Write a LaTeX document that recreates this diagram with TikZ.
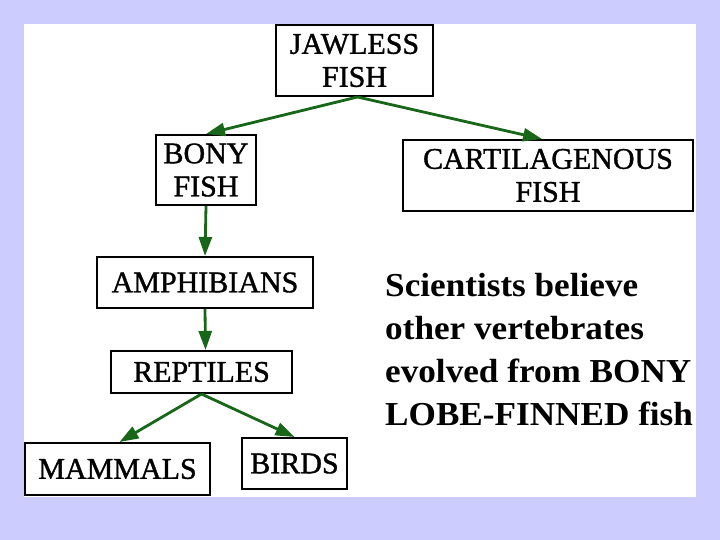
\documentclass[tikz,border=0pt]{standalone}
\usepackage{fontspec}
\setmainfont{Liberation Serif}
\newfontfamily\taxonfont[FakeBold=1.2]{Liberation Serif}
\newfontfamily\notefont[FakeStretch=1.05]{Liberation Serif}
\usetikzlibrary{arrows.meta}
\definecolor{treegreen}{RGB}{24,102,24}
\definecolor{slideblue}{RGB}{204,204,255}
\tikzset{
  >=Latex,
  taxon/.style={draw, line width=2pt, fill=white, align=center, inner sep=0pt,
    font=\taxonfont\fontsize{30}{33}\selectfont},
  note/.style={align=left, inner sep=0pt, anchor=west,
    font=\notefont\bfseries\fontsize{33.5}{43}\selectfont},
  arr/.style={-{Triangle[length=19pt,width=13pt]}, line width=2.8pt, draw=treegreen}
}

\begin{document}
\begin{tikzpicture}[x=1pt,y=-1pt]

% ------------------------------------------------------------------
% slide background
% ------------------------------------------------------------------
\fill[slideblue] (0,0) rectangle (720,540);
\fill[white] (24,24) rectangle (696,497);
\useasboundingbox (0,0) rectangle (720,540);

% ------------------------------------------------------------------
% fish
% ------------------------------------------------------------------
\node[taxon, minimum width=157pt, minimum height=71pt] (jawless) at (354.5,60.5)
  {JAWLESS\\FISH};
\node[taxon, minimum width=100pt, minimum height=70pt] (bony) at (206,170)
  {BONY\\FISH};
\node[taxon, minimum width=290pt, minimum height=71pt] (cartilage) at (548,175.5)
  {CARTILAGENOUS\\FISH};

% ------------------------------------------------------------------
% land vertebrates
% ------------------------------------------------------------------
\node[taxon, minimum width=216pt, minimum height=51pt] (amphibians) at (205,282.5)
  {AMPHIBIANS};
\node[taxon, minimum width=181pt, minimum height=42pt] (reptiles) at (201.5,372)
  {REPTILES};
\node[taxon, minimum width=185pt, minimum height=52pt] (mammals) at (117.5,469)
  {MAMMALS};
\node[taxon, minimum width=105pt, minimum height=51pt] (birds) at (294.5,463.5)
  {BIRDS};

\node[note] (remark) at (385,350)
  {Scientists believe\\other vertebrates\\evolved from BONY\\LOBE-FINNED fish};

\draw[arr] ([xshift=3pt]jawless.south) -- (bony.north);
\draw[arr] ([xshift=3pt]jawless.south) -- ([xshift=-6pt]cartilage.north);
\draw[arr] (bony.south) -- (amphibians.north);
\draw[arr] (amphibians.south) -- ([xshift=4pt]reptiles.north);
\draw[arr] (reptiles.south) -- ([xshift=2pt]mammals.north);
\draw[arr] (reptiles.south) -- (birds.north);

\end{tikzpicture}
\end{document}
